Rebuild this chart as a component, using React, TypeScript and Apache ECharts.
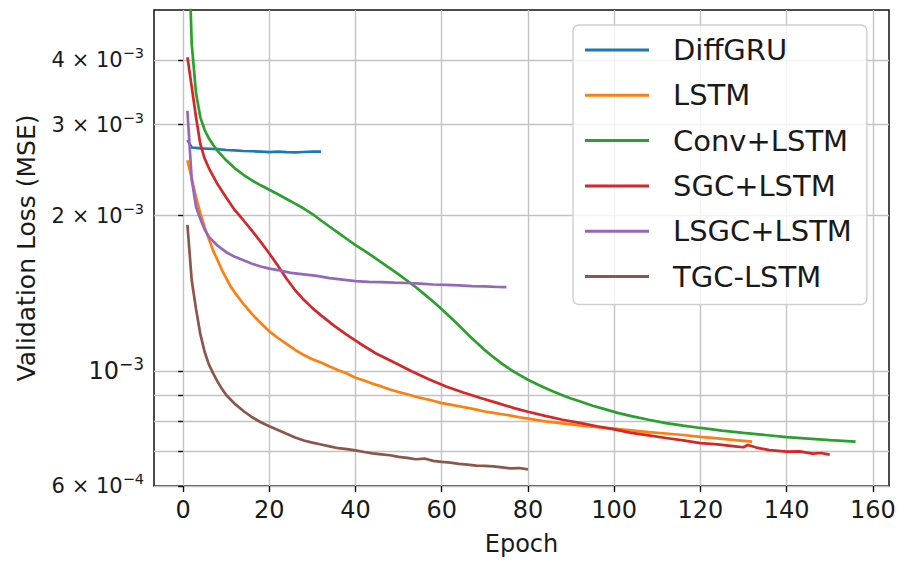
import React, { useEffect, useRef } from 'react';
import * as echarts from 'echarts';

// ---- data (loss values in units of 1e-3) ----
const SERIES_NAMES = ['DiffGRU', 'LSTM', 'Conv+LSTM', 'SGC+LSTM', 'LSGC+LSTM', 'TGC-LSTM'];
const COLORS = ['#1f77b4', '#ff7f0e', '#2ca02c', '#d62728', '#9467bd', '#8c564b'];

const X_TICKS = [0, 20, 40, 60, 80, 100, 120, 140, 160];
const Y_GRID = [6e-4, 7e-4, 8e-4, 9e-4, 1e-3, 2e-3, 3e-3, 4e-3];
const Y_LABELS = [6e-4, 1e-3, 2e-3, 3e-3, 4e-3];

const diffgru: [number, number][] = [
  [1, 2.80], [2, 2.71], [3, 2.705], [4, 2.70], [6, 2.695], [8, 2.69], [10, 2.68], [12, 2.675],
  [14, 2.668], [16, 2.665], [18, 2.66], [20, 2.655], [22, 2.66], [24, 2.655], [26, 2.652],
  [28, 2.656], [30, 2.66], [32, 2.66],
];

const lstm: [number, number][] = [
  [1, 2.56], [2, 2.36], [3, 2.17], [4, 2.02], [5, 1.90], [6, 1.80], [7, 1.71], [8, 1.64], [9, 1.57],
  [10, 1.515], [11, 1.46], [12, 1.42], [14, 1.35], [16, 1.29], [18, 1.24], [20, 1.195], [22, 1.16],
  [24, 1.13], [26, 1.10], [28, 1.075], [30, 1.055], [32, 1.04], [34, 1.022], [36, 1.005], [38, 0.99],
  [40, 0.972], [42, 0.96], [44, 0.946], [46, 0.935], [48, 0.922], [50, 0.912], [52, 0.903], [54, 0.893],
  [56, 0.885], [58, 0.877], [60, 0.868], [62, 0.862], [64, 0.856], [66, 0.85], [68, 0.843], [70, 0.836],
  [72, 0.831], [74, 0.826], [76, 0.821], [78, 0.815], [80, 0.81], [84, 0.80], [88, 0.793], [92, 0.786],
  [96, 0.78], [100, 0.775], [104, 0.769], [108, 0.763], [112, 0.758], [116, 0.753], [120, 0.747],
  [124, 0.742], [128, 0.736], [132, 0.731],
];

const convLstm: [number, number][] = [
  [1, 8.0], [2, 4.3], [3, 3.45], [4, 3.1], [5, 2.93], [6, 2.82], [7, 2.74], [8, 2.67], [10, 2.56],
  [12, 2.47], [14, 2.40], [16, 2.34], [18, 2.29], [20, 2.245], [22, 2.20], [24, 2.155], [26, 2.11],
  [28, 2.065], [30, 2.015], [32, 1.958], [34, 1.904], [36, 1.853], [38, 1.803], [40, 1.755], [42, 1.711],
  [44, 1.668], [46, 1.625], [48, 1.582], [50, 1.54], [52, 1.497], [54, 1.454], [56, 1.409], [58, 1.365],
  [60, 1.319], [62, 1.272], [64, 1.226], [66, 1.18], [68, 1.138], [70, 1.099], [72, 1.065], [74, 1.034],
  [76, 1.007], [78, 0.984], [80, 0.963], [82, 0.945], [84, 0.928], [86, 0.913], [88, 0.899], [90, 0.886],
  [92, 0.875], [95, 0.858], [98, 0.844], [101, 0.83], [104, 0.819], [108, 0.806], [112, 0.794],
  [116, 0.785], [120, 0.777], [125, 0.768], [130, 0.76], [135, 0.753], [140, 0.746], [145, 0.741],
  [150, 0.736], [156, 0.731],
];

const sgcLstm: [number, number][] = [
  [1, 4.05], [2, 3.55], [3, 3.1], [4, 2.75], [5, 2.58], [6, 2.47], [8, 2.3], [10, 2.17], [12, 2.05],
  [14, 1.96], [16, 1.87], [18, 1.78], [20, 1.69], [22, 1.60], [24, 1.51], [26, 1.435], [28, 1.375],
  [30, 1.325], [32, 1.283], [35, 1.226], [38, 1.176], [41, 1.132], [45, 1.08], [49, 1.04], [53, 1.0],
  [57, 0.965], [61, 0.935], [65, 0.91], [69, 0.888], [73, 0.868], [77, 0.848], [80, 0.835], [84, 0.82],
  [88, 0.806], [92, 0.795], [96, 0.783], [100, 0.772], [104, 0.76], [108, 0.752], [112, 0.743],
  [116, 0.735], [120, 0.726], [124, 0.722], [128, 0.716], [130, 0.713], [131, 0.72], [133, 0.712],
  [136, 0.704], [140, 0.699], [143, 0.70], [146, 0.693], [148, 0.695], [150, 0.69],
];

const lsgcLstm: [number, number][] = [
  [1, 3.19], [2, 2.35], [3, 2.08], [4, 1.97], [5, 1.88], [6, 1.82], [8, 1.75], [10, 1.70], [12, 1.665],
  [14, 1.64], [16, 1.615], [18, 1.595], [20, 1.58], [22, 1.57], [25, 1.55], [28, 1.54], [31, 1.53],
  [34, 1.515], [37, 1.505], [40, 1.495], [43, 1.49], [46, 1.488], [49, 1.484], [52, 1.482], [55, 1.478],
  [58, 1.472], [61, 1.47], [64, 1.466], [67, 1.462], [70, 1.46], [73, 1.456], [75, 1.455],
];

const tgcLstm: [number, number][] = [
  [1, 1.92], [2, 1.50], [3, 1.32], [4, 1.18], [5, 1.09], [6, 1.03], [7, 0.99], [8, 0.955], [9, 0.925],
  [10, 0.90], [12, 0.865], [14, 0.838], [16, 0.815], [18, 0.797], [20, 0.783], [22, 0.77], [24, 0.757],
  [26, 0.745], [28, 0.735], [30, 0.728], [32, 0.722], [34, 0.716], [36, 0.71], [38, 0.707], [40, 0.703],
  [42, 0.698], [44, 0.694], [46, 0.691], [48, 0.688], [50, 0.683], [52, 0.68], [54, 0.676], [56, 0.678],
  [58, 0.671], [60, 0.668], [62, 0.666], [64, 0.662], [66, 0.66], [68, 0.657], [70, 0.656], [72, 0.655],
  [74, 0.652], [76, 0.649], [78, 0.65], [80, 0.646],
];

const ALL_DATA = [diffgru, lstm, convLstm, sgcLstm, lsgcLstm, tgcLstm];

const FONT = 'DejaVu Sans';

function fmtLog(v: number): string {
  const e = Math.floor(Math.log10(v) + 1e-9);
  const m = Math.round(v / Math.pow(10, e));
  const exp = String(e).replace('-', '\u2212');
  return m === 1 ? `{maj|10}{majsup|${exp}}` : `{min|${m} × 10}{minsup|${exp}}`;
}

export default function App() {
  const ref = useRef<HTMLDivElement>(null);
  useEffect(() => {
    if (!ref.current) return;
    const chart = echarts.init(ref.current, undefined, { renderer: 'svg' });
    const option = {
      animation: false,
      backgroundColor: '#ffffff',
      textStyle: { fontFamily: FONT },
      grid: {
        left: 154, right: 10, top: 10, bottom: 75,
        show: true, borderColor: '#111', borderWidth: 1.5, backgroundColor: 'transparent',
      },
      legend: {
        left: 573, top: 25, orient: 'vertical',
        data: SERIES_NAMES.map((n) => ({ name: n, icon: 'rect' })),
        itemWidth: 64, itemHeight: 3, itemGap: 15.3,
        padding: [10, 15, 13, 12],
        backgroundColor: 'rgba(255,255,255,0.8)',
        borderColor: '#cfcfcf', borderWidth: 1.4, borderRadius: 6,
        textStyle: { fontFamily: FONT, fontSize: 29, lineHeight: 30, color: '#1a1a1a', padding: [0, 0, 0, 19] },
        selectedMode: false,
      },
      xAxis: {
        type: 'value', min: -6.75, max: 163.75,
        name: 'Epoch', nameLocation: 'middle', nameGap: 46,
        nameTextStyle: { fontFamily: FONT, fontSize: 24, color: '#1a1a1a' },
        axisLine: { show: false },
        axisTick: { show: true, inside: false, length: 6, customValues: X_TICKS, lineStyle: { color: '#111', width: 1.4 } },
        axisLabel: { customValues: X_TICKS, margin: 12, fontFamily: FONT, fontSize: 24, color: '#1a1a1a' },
        splitLine: { show: true, lineStyle: { color: '#c2c2c2', width: 1.4 } },
      },
      yAxis: {
        type: 'log', logBase: 10, min: 6e-4, max: 5e-3,
        name: 'Validation Loss (MSE)', nameLocation: 'middle', nameGap: 115,
        nameTextStyle: { fontFamily: FONT, fontSize: 25, color: '#1a1a1a' },
        axisLine: { show: false },
        axisTick: { show: true, inside: false, length: 5, customValues: Y_GRID, lineStyle: { color: '#111', width: 1.4 } },
        axisLabel: {
          customValues: Y_LABELS, margin: 10, color: '#1a1a1a',
          formatter: (v: number) => fmtLog(v),
          rich: {
            maj: { fontFamily: FONT, fontSize: 24, lineHeight: 32, color: '#1a1a1a' },
            majsup: { fontFamily: FONT, fontSize: 17, lineHeight: 17, verticalAlign: 'top', color: '#1a1a1a' },
            min: { fontFamily: FONT, fontSize: 21, lineHeight: 29, color: '#1a1a1a' },
            minsup: { fontFamily: FONT, fontSize: 14.5, lineHeight: 14.5, verticalAlign: 'top', color: '#1a1a1a' },
          },
        },
        splitLine: { show: true, lineStyle: { color: '#c2c2c2', width: 1.4 } },
        minorSplitLine: { show: false },
      },
      series: SERIES_NAMES.map((name, i) => ({
        name, type: 'line', showSymbol: false, symbol: 'none', clip: true,
        color: COLORS[i],
        lineStyle: { color: COLORS[i], width: 2.7 },
        data: ALL_DATA[i].map(([e, v]) => [e, v * 1e-3]),
      })),
    };
    chart.setOption(option as any);
    return () => chart.dispose();
  }, []);
  return <div ref={ref} style={{ position: 'fixed', left: 0, top: 0, width: 899, height: 561 }} />;
}
